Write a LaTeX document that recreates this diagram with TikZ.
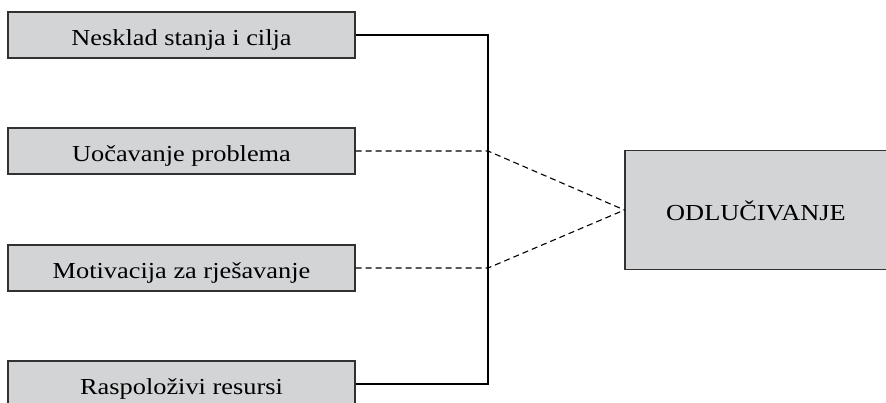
\documentclass[tikz,border=0pt]{standalone}
\usepackage{fontspec}
\setmainfont{Liberation Serif}[FakeStretch=1.15]
\definecolor{boxfill}{RGB}{211,212,214}
\definecolor{boxline}{RGB}{50,50,50}
\begin{document}
\begin{tikzpicture}[x=1bp,y=-1bp,
  srcbox/.style={draw=boxline,fill=boxfill,line width=1.2bp,minimum width=347bp,minimum height=46bp,inner sep=0pt,text height=21bp,text depth=1bp,font=\fontsize{23}{25}\selectfont},
  dstbox/.style={draw=boxline,fill=boxfill,line width=1.2bp,minimum width=262bp,minimum height=119bp,inner sep=0pt,text height=21bp,text depth=1bp,font=\fontsize{23}{25}\selectfont},
  solidlink/.style={draw=black,line width=1.1bp},
  dashlink/.style={draw=black,line width=1.1bp,dashed,dash pattern=on 6bp off 4bp}]
\useasboundingbox (0,0) rectangle (886,402);
\begin{scope}
\clip (0,0) rectangle (886,402);
\node[srcbox] (n1) at (181.5,35) {Nesklad stanja i cilja};
\node[srcbox] (n2) at (181.5,151) {Uočavanje problema};
\node[srcbox] (n3) at (181.5,268) {Motivacija za rješavanje};
\node[srcbox] (n4) at (181.5,384) {Raspoloživi resursi};
\node[dstbox] (d) at (756,210) {ODLUČIVANJE};
\coordinate (j1) at (488,35);
\coordinate (j4) at (488,384);
\coordinate (j2) at (488,151);
\coordinate (j3) at (488,268);
\draw[solidlink] (n1.east) -- (j1) -- (j4) -- (n4.east);
\draw[dashlink] (n2.east) -- (j2) -- (d.west);
\draw[dashlink] (n3.east) -- (j3) -- (d.west);
\end{scope}
\end{tikzpicture}
\end{document}
